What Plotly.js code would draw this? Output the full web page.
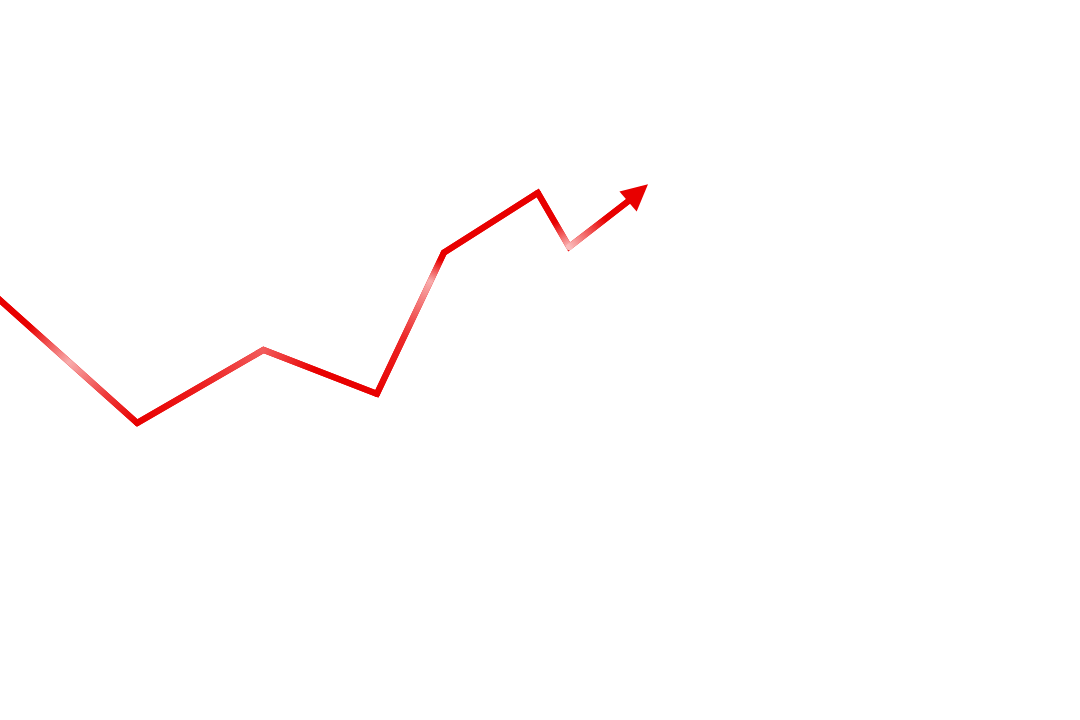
<!DOCTYPE html>
<html>
<head>
<meta charset="utf-8">
<script src="https://cdn.plot.ly/plotly-3.0.1.min.js"></script>
<style>
  html, body { margin: 0; padding: 0; background: #fff; }
  #chart { width: 1080px; height: 720px; }
</style>
</head>
<body>
<div id="chart"></div>
<script>
// line vertices (axis units 0-100 both ways)
const xValues = [-2, 12.7, 24.4, 34.9, 41.1, 49.8, 52.7, 58.3];
const yValues = [61.0, 41.25, 51.4, 45.3, 64.9, 73.2, 65.7, 72.2];
const arrowTipX = [60.0];
const arrowTipY = [74.4];

const RED = 'rgb(232, 0, 0)';
const PINK = 'rgb(248, 172, 172)';
const LIGHT = 'rgb(242, 92, 92)';

// colour stops along each segment, to mimic the glossy fade of the original
const SEGMENT_STOPS = [
  [[0, RED], [0.32, RED], [0.57, PINK], [0.8, 'rgb(238, 60, 60)'], [1, RED]],
  [[0, RED], [0.5, 'rgb(236, 30, 30)'], [1, LIGHT]],
  [[0, LIGHT], [0.45, RED], [1, RED]],
  [[0, RED], [0.4, 'rgb(236, 40, 40)'], [0.8, PINK], [0.95, RED], [1, RED]],
  [[0, RED], [1, RED]],
  [[0, RED], [0.55, RED], [1, 'rgb(250, 188, 188)']],
  [[0, 'rgb(250, 188, 188)'], [0.35, 'rgb(240, 80, 80)'], [0.6, RED], [1, RED]],
];

const LINE_WIDTH = 6.2;
const chartEl = document.getElementById('chart');

const traces = [{
  x: xValues,
  y: yValues,
  type: 'scatter',
  mode: 'lines',
  line: { color: RED, width: LINE_WIDTH },
  hoverinfo: 'skip',
}];

// one trace per segment so each can get its own gradient
for (let i = 0; i < xValues.length - 1; i++) {
  traces.push({
    x: xValues.slice(i, i + 2),
    y: yValues.slice(i, i + 2),
    type: 'scatter',
    mode: 'lines',
    line: { color: RED, width: LINE_WIDTH },
    hoverinfo: 'skip',
  });
}

const last = xValues.length - 1;
const layout = {
  width: 1080,
  height: 720,
  margin: { t: 0, r: 0, b: 0, l: 0 },
  paper_bgcolor: '#fff',
  plot_bgcolor: '#fff',
  showlegend: false,
  xaxis: { range: [0, 100], visible: false, fixedrange: true },
  yaxis: { range: [0, 100], visible: false, fixedrange: true },
  annotations: [{
    x: arrowTipX[0], y: arrowTipY[0],
    ax: xValues[last], ay: yValues[last],
    xref: 'x', yref: 'y', axref: 'x', ayref: 'y',
    text: '',
    showarrow: true,
    arrowhead: 2,
    arrowsize: 0.85,
    arrowwidth: LINE_WIDTH,
    arrowcolor: RED,
  }],
};

Plotly.newPlot(chartEl, traces, layout, { displayModeBar: false, staticPlot: true }).then(applyGradients);

function applyGradients() {
  const svgNS = 'http://www.w3.org/2000/svg';
  const defs = chartEl.querySelector('svg.main-svg defs');
  const lines = chartEl.querySelectorAll('.scatterlayer .trace path.js-line');
  // first path is the full polyline, the rest are segments
  lines.forEach((path, idx) => {
    if (idx === 0) return;
    const stops = SEGMENT_STOPS[idx - 1];
    const nums = (path.getAttribute('d') || '').match(/-?[\d.]+(e-?\d+)?/g);
    if (!stops || !nums || nums.length < 4) return;
    const [x1, y1] = nums.slice(0, 2).map(Number);
    const [x2, y2] = nums.slice(-2).map(Number);
    const grad = document.createElementNS(svgNS, 'linearGradient');
    grad.setAttribute('id', 'seggrad' + idx);
    grad.setAttribute('gradientUnits', 'userSpaceOnUse');
    grad.setAttribute('x1', x1);
    grad.setAttribute('y1', y1);
    grad.setAttribute('x2', x2);
    grad.setAttribute('y2', y2);
    stops.forEach(([off, col]) => {
      const s = document.createElementNS(svgNS, 'stop');
      s.setAttribute('offset', off);
      s.setAttribute('stop-color', col);
      grad.appendChild(s);
    });
    defs.appendChild(grad);
    path.style.stroke = `url(#seggrad${idx})`;
    // round caps stay inside the mitred base line and colour the joins
    path.style.strokeLinecap = 'round';
  });
}
</script>
</body>
</html>
